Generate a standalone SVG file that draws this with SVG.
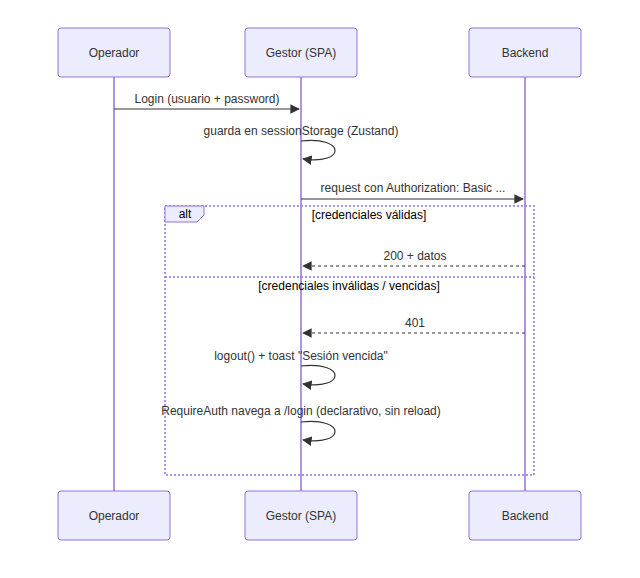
<svg xmlns="http://www.w3.org/2000/svg" width="640" height="578" viewBox="0 0 640 578">
<style>
.actor{fill:#ECECFF;stroke:#9370DB;stroke-width:1}
.life{stroke:#9370DB;stroke-width:1.5}
.t{font-family:"Liberation Sans",Arial,sans-serif;font-size:12px;fill:#333;text-anchor:middle}
.m{font-family:"Liberation Sans",Arial,sans-serif;font-size:12px;fill:#333;text-anchor:middle}
.b{font-family:"Liberation Sans",Arial,sans-serif;font-size:12px;fill:#000;text-anchor:middle}
.msg{stroke:#333;stroke-width:1.2;fill:none}
.dash{stroke-dasharray:3,3}
.box{fill:none;stroke:#9370DB;stroke-width:1.5;stroke-dasharray:2,2}
</style>
<defs>
<marker id="ah" viewBox="0 0 10 10" refX="9" refY="5" markerWidth="8" markerHeight="8" orient="auto"><path d="M0,0 L10,5 L0,10 z" fill="#333"/></marker>
</defs>
<rect width="640" height="578" fill="#fff"/>
<g id="lifelines">
<line class="life" x1="114" y1="77" x2="114" y2="491"/>
<line class="life" x1="301" y1="77" x2="301" y2="491"/>
<line class="life" x1="525" y1="77" x2="525" y2="491"/>
</g>
<g id="alt">
<rect class="box" x="165" y="206" width="369" height="269"/>
<path d="M165,206 H204 V215 L197,222 H165 Z" fill="#ECECFF" stroke="#9370DB"/>
<text class="b" x="185" y="218">alt</text>
<text class="b" x="369" y="219">[credenciales válidas]</text>
<line class="box" x1="165" y1="277" x2="534" y2="277"/>
<text class="b" x="349" y="290">[credenciales inválidas / vencidas]</text>
</g>
<g id="connectors">
<line class="msg" x1="114" y1="109" x2="299" y2="109" marker-end="url(#ah)"/>
<text class="m" x="207" y="103">Login (usuario + password)</text>
<path class="msg" d="M301,141 C346,136 346,165 303,159" marker-end="url(#ah)"/>
<text class="m" x="301" y="135">guarda en sessionStorage (Zustand)</text>
<line class="msg" x1="301" y1="199" x2="523" y2="199" marker-end="url(#ah)"/>
<text class="m" x="413" y="192">request con Authorization: Basic ...</text>
<line class="msg dash" x1="525" y1="266" x2="303" y2="266" marker-end="url(#ah)"/>
<text class="m" x="415" y="260">200 + datos</text>
<line class="msg dash" x1="525" y1="333" x2="303" y2="333" marker-end="url(#ah)"/>
<text class="m" x="415" y="327">401</text>
<path class="msg" d="M301,366 C346,361 346,390 303,384" marker-end="url(#ah)"/>
<text class="m" x="301" y="360">logout() + toast "Sesión vencida"</text>
<path class="msg" d="M301,422 C346,417 346,446 303,440" marker-end="url(#ah)"/>
<text class="m" x="301" y="415">RequireAuth navega a /login (declarativo, sin reload)</text>
</g>
<g id="operador-top"><rect class="actor" x="58" y="28" width="112" height="49" rx="3"/><text class="t" x="114" y="57">Operador</text></g>
<g id="gestor-top"><rect class="actor" x="245" y="28" width="112" height="49" rx="3"/><text class="t" x="301" y="57">Gestor (SPA)</text></g>
<g id="backend-top"><rect class="actor" x="469" y="28" width="112" height="49" rx="3"/><text class="t" x="525" y="57">Backend</text></g>
<g id="operador-bottom"><rect class="actor" x="58" y="491" width="112" height="49" rx="3"/><text class="t" x="114" y="520">Operador</text></g>
<g id="gestor-bottom"><rect class="actor" x="245" y="491" width="112" height="49" rx="3"/><text class="t" x="301" y="520">Gestor (SPA)</text></g>
<g id="backend-bottom"><rect class="actor" x="469" y="491" width="112" height="49" rx="3"/><text class="t" x="525" y="520">Backend</text></g>
</svg>
